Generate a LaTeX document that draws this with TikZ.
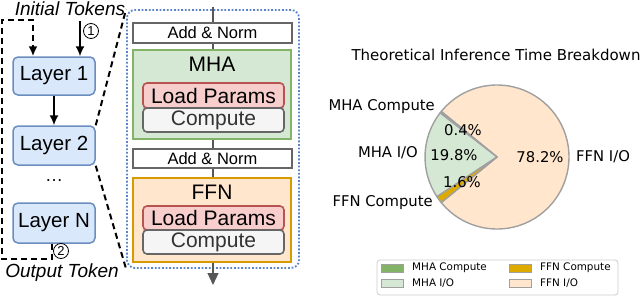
\documentclass[tikz,border=0pt]{standalone}
\usepackage{fontspec}
\setmainfont{Liberation Sans}
\newfontfamily\pief{DejaVu Sans}
\usetikzlibrary{arrows.meta}
\definecolor{lblue}{HTML}{DAE8FC}
\definecolor{dblue}{HTML}{6C8EBF}
\definecolor{lgreen}{HTML}{D5E8D4}
\definecolor{dgreen}{HTML}{82B366}
\definecolor{lred}{HTML}{F8CECC}
\definecolor{dred}{HTML}{B85450}
\definecolor{lgray}{HTML}{F5F5F5}
\definecolor{dgray}{HTML}{666666}
\definecolor{lorange}{HTML}{FFE6CC}
\definecolor{dorange}{HTML}{D79B00}
\definecolor{dotblue}{HTML}{5B84C8}
\definecolor{pieedge}{HTML}{A0A0A0}
\definecolor{legedge}{HTML}{CCCCCC}
\begin{document}
\begin{tikzpicture}[x=1pt,y=-1pt,
  layerbox/.style={draw=dblue,fill=lblue,line width=1.5pt,rounded corners=5pt,inner sep=0pt,
    minimum width=82pt,font=\fontsize{20.5}{24}\selectfont},
  arr/.style={line width=1.6pt,-{Latex[length=10pt,width=9pt]}},
  loopline/.style={line width=2pt,dash pattern=on 6pt off 4pt,-{Latex[length=10pt,width=9pt]}},
  zoomline/.style={line width=2pt,dash pattern=on 6pt off 4pt},
  circnum/.style={circle,draw,line width=0.8pt,minimum size=15pt,inner sep=0pt,font=\fontsize{13}{15}\selectfont},
  italtext/.style={font=\fontsize{19}{22}\selectfont\itshape,inner sep=0pt},
  dotbox/.style={draw=dotblue,line width=1.8pt,dash pattern=on 1.8pt off 1.8pt,rounded corners=8pt,inner sep=0pt},
  flow/.style={draw=dgray!85!black,line width=1.2pt,-{Triangle[length=12pt,width=11pt]}},
  normbox/.style={draw=dgray,fill=white,line width=1.6pt,inner sep=0pt,minimum width=159pt,
    font=\fontsize{16.5}{19}\selectfont},
  mhabox/.style={draw=dgreen,fill=lgreen,line width=1.6pt,inner sep=0pt,minimum width=158pt},
  ffnbox/.style={draw=dorange,fill=lorange,line width=1.6pt,inner sep=0pt,minimum width=158pt},
  bigtext/.style={font=\fontsize{21}{24}\selectfont,inner sep=0pt},
  parbox/.style={draw=dred,fill=lred,line width=1.6pt,rounded corners=4pt,inner sep=0pt,
    minimum width=141pt,font=\fontsize{21}{24}\selectfont},
  compbox/.style={draw=dgray,fill=lgray,line width=1.6pt,rounded corners=4pt,inner sep=0pt,
    minimum width=141pt,font=\fontsize{21}{24}\selectfont,text=black!80},
  pietext/.style={font=\pief\fontsize{14.8}{17}\selectfont,inner sep=0pt},
  legtext/.style={font=\pief\fontsize{10.4}{12}\selectfont,inner sep=0pt,anchor=west},
  legpatch/.style={draw=pieedge,line width=0.8pt,minimum width=22pt,minimum height=8pt,inner sep=0pt},
  wedge/.style={draw=pieedge,line width=1.4pt,line join=round}
]
\useasboundingbox (0,0) rectangle (640,297);

% ---------- left: layer stack ----------
\node[layerbox,minimum height=38pt] (l1) at (54,76) {Layer 1};
\node[layerbox,minimum height=39pt] (l2) at (54,145.5) {Layer 2};
\node[inner sep=0pt,font=\fontsize{18}{20}\selectfont] (dots) at (54,181) {\dots};
\node[layerbox,minimum height=40pt] (ln) at (54,223) {Layer N};
\draw[arr] (l1) -- (l2);

\node[italtext,anchor=base] (init) at (70,16) {Initial Tokens};
\node[italtext,anchor=base] (outt) at (62,277) {Output Token};
\coordinate (itop) at (80,21);
\draw[arr] (itop) -- (itop |- l1.north);
\draw[loopline] ([xshift=-2pt]ln.south) -- ++(0,15) -| (2,20) -| ([xshift=-21pt]l1.north);
\node[circnum] (c1) at (91,31) {1};
\node[circnum] (c2) at (61,251) {2};

% ---------- middle: transformer block ----------
\node[dotbox,minimum width=172pt,minimum height=258pt] (blk) at (213,139) {};
\draw[zoomline] (l2.north east) -- (blk.north west);
\draw[zoomline] (l2.south east) -- (blk.south west);
\coordinate (ftop) at (213,7);
\coordinate (fbot) at (213,285);
\draw[flow] (ftop) -- (fbot);

\node[normbox,minimum height=20pt] (an1) at (212.5,33) {Add \& Norm};
\node[mhabox,minimum height=89pt] (mha) at (212,94.5) {};
\node[bigtext] (mhat) at (212,64) {MHA};
\node[parbox,minimum height=25pt] (lp1) at (213.5,95.5) {Load Params};
\node[compbox,minimum height=24pt] (cp1) at (213.5,120) {Compute};
\node[normbox,minimum height=19pt] (an2) at (212.5,158.5) {Add \& Norm};
\node[ffnbox,minimum height=84pt] (ffn) at (212,220) {};
\node[bigtext] (ffnt) at (212,192) {FFN};
\node[parbox,minimum height=24pt] (lp2) at (213.5,218) {Load Params};
\node[compbox,minimum height=24pt] (cp2) at (213.5,242) {Compute};

% ---------- right: pie chart ----------
\node[pietext,font=\pief\fontsize{15}{17}\selectfont] (title) at (496,55) {Theoretical Inference Time Breakdown};
\begin{scope}[shift={(497,157)},y=1pt]
  \coordinate (pc) at (0,0);
  \filldraw[wedge,fill=lorange] (pc) -- (-140.76:72) arc[start angle=-140.76,end angle=140.76,radius=72] -- cycle;
  \filldraw[wedge,fill=dgreen] (pc) -- (140.76:72) arc[start angle=140.76,end angle=142.2,radius=72] -- cycle;
  \filldraw[wedge,fill=lgreen] (pc) -- (142.2:72) arc[start angle=142.2,end angle=213.48,radius=72] -- cycle;
  \filldraw[wedge,fill=dorange!85!yellow] (pc) -- (213.48:72) arc[start angle=213.48,end angle=219.24,radius=72] -- cycle;
\end{scope}
\node[pietext] (p1) at (463,130) {0.4\%};
\node[pietext] (p2) at (454,155) {19.8\%};
\node[pietext] (p3) at (462,182) {1.6\%};
\node[pietext] (p4) at (540,157) {78.2\%};
\node[pietext,anchor=east] (lb1) at (435,107) {MHA Compute};
\node[pietext,anchor=east] (lb2) at (418,153) {MHA I/O};
\node[pietext,anchor=east] (lb3) at (433,203) {FFN Compute};
\node[pietext,anchor=west] (lb4) at (576,157) {FFN I/O};

% legend
\node[draw=legedge,fill=white,line width=0.8pt,rounded corners=3pt,minimum width=241pt,minimum height=35pt,inner sep=0pt] (leg) at (497.5,277.5) {};
\node[legpatch,fill=dgreen] (lp_a) at (392,268) {};
\node[legpatch,fill=lgreen] (lp_b) at (392,283) {};
\node[legpatch,fill=dorange!85!yellow] (lp_c) at (520.5,268) {};
\node[legpatch,fill=lorange] (lp_d) at (520.5,283) {};
\node[legtext] (lt_a) at (412,268) {MHA Compute};
\node[legtext] (lt_b) at (412,283) {MHA I/O};
\node[legtext] (lt_c) at (540,268) {FFN Compute};
\node[legtext] (lt_d) at (540,283) {FFN I/O};
\end{tikzpicture}
\end{document}
